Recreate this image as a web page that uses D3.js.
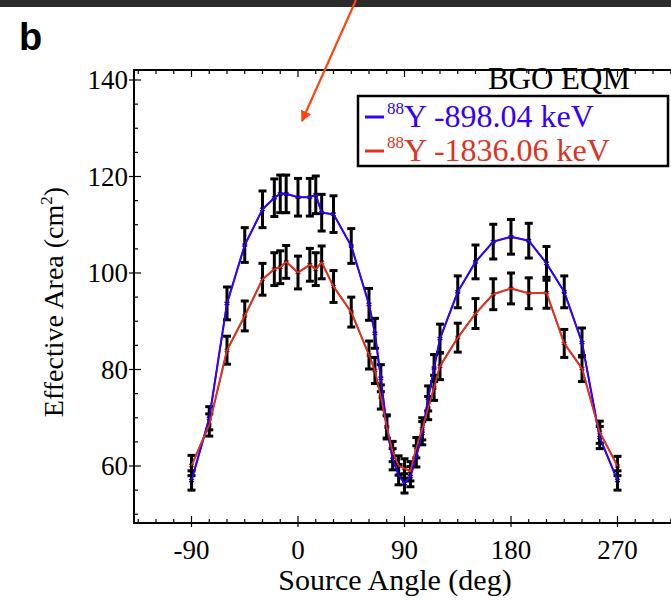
<!DOCTYPE html>
<html>
<head>
<meta charset="utf-8">
<script src="https://cdn.jsdelivr.net/npm/d3@7"></script>
<style>
  html, body { margin: 0; padding: 0; background: #fff; }
  svg { display: block; }
</style>
</head>
<body>
<div id="chart"></div>
<script>
const width = 671;
const height = 602;

// source angles (deg)
const angles = [-90, -75, -60, -45, -30, -20, -15, -10, 0, 10, 15, 20, 30, 45, 60, 65, 70, 75, 80, 85,
  90, 95, 100, 105, 110, 115, 120, 135, 150, 165, 180, 195, 210, 225, 240, 255, 270];

// 88Y 898.04 keV
const area898 = [57.0, 69.9, 93.7, 105.8, 113.2, 115.6, 116.4, 116.4, 115.7, 115.7, 116.2, 112.5, 112.2, 105.6, 93.5, 87.5, 78.2, 68.1, 61.4, 58.2,
  56.4, 57.8, 62.0, 66.8, 74.0, 80.3, 86.4, 96.1, 102.3, 106.5, 107.5, 106.7, 102.0, 96.1, 85.6, 65.9, 57.0];
const err898 = [2.0, 2.4, 3.4, 3.6, 3.8, 3.9, 3.9, 3.9, 3.9, 3.9, 3.9, 3.8, 3.8, 3.6, 3.3, 3.1, 2.8, 2.5, 2.2, 2.1,
  2.0, 2.1, 2.2, 2.4, 2.6, 2.8, 3.0, 3.3, 3.5, 3.6, 3.6, 3.6, 3.5, 3.3, 3.0, 2.3, 2.0];

// 88Y 1836.06 keV
const area1836 = [60.1, 68.5, 84.0, 91.1, 98.7, 100.8, 101.2, 102.3, 100.1, 101.7, 100.8, 102.2, 97.2, 91.9, 83.0, 79.8, 74.3, 68.1, 63.0, 60.1,
  59.5, 58.9, 63.8, 67.7, 72.0, 76.2, 80.7, 86.6, 91.6, 95.6, 96.8, 95.8, 95.9, 85.4, 80.2, 67.0, 60.0];
const err1836 = [2.1, 2.3, 2.9, 3.1, 3.3, 3.4, 3.4, 3.4, 3.4, 3.4, 3.4, 3.4, 3.3, 3.1, 2.9, 2.7, 2.5, 2.3, 2.1, 2.0,
  2.0, 2.0, 2.1, 2.3, 2.4, 2.6, 2.8, 3.0, 3.1, 3.2, 3.2, 3.2, 3.2, 2.9, 2.7, 2.3, 2.0];

const xTicks = [-90, 0, 90, 180, 270];
const yTicks = [60, 80, 100, 120, 140];

const blue = "#3300ff";
const red = "#dd3322";
const serif = "'Liberation Serif', 'DejaVu Serif', serif";

const frame = { left: 134, right: 700, top: 70, bottom: 523 };

const svg = d3.select("#chart")
  .append("svg")
  .attr("width", width)
  .attr("height", height);

const x = d3.scaleLinear()
  .domain([-90, 270])
  .range([191.5, 617.5]);

const y = d3.scaleLinear()
  .domain([60, 140])
  .range([466, 80]);

// top dark strip + label "b"
svg.append("rect")
  .attr("x", 0).attr("y", 0)
  .attr("width", width).attr("height", 7)
  .attr("fill", "#2b2b2b");

svg.append("text")
  .attr("x", 19).attr("y", 50)
  .attr("font-family", "'Liberation Sans', Arial, sans-serif")
  .attr("font-weight", "bold")
  .attr("font-size", 38)
  .text("b");

// axis frame
svg.append("rect")
  .attr("x", frame.left).attr("y", frame.top)
  .attr("width", frame.right - frame.left)
  .attr("height", frame.bottom - frame.top)
  .attr("fill", "none")
  .attr("stroke", "#000")
  .attr("stroke-width", 2);

const xMin = x.invert(frame.left), xMax = x.invert(frame.right);
const yMin = y.invert(frame.bottom), yMax = y.invert(frame.top);

const ticks = svg.append("g").attr("stroke", "#000").attr("stroke-width", 1.2);

d3.range(-135, 331, 15).filter(d => d >= xMin && d <= xMax).forEach(d => {
  const major = d % 90 === 0;
  const len = major ? 7 : 4;
  ticks.append("line")
    .attr("x1", x(d)).attr("x2", x(d))
    .attr("y1", frame.bottom + (major ? 4 : 0)).attr("y2", frame.bottom - len);
  ticks.append("line")
    .attr("x1", x(d)).attr("x2", x(d))
    .attr("y1", frame.top).attr("y2", frame.top + len);
});

d3.range(50, 141, 5).filter(d => d >= yMin && d <= yMax).forEach(d => {
  const major = d % 20 === 0;
  const len = major ? 7 : 4;
  ticks.append("line")
    .attr("x1", frame.left - (major ? 5 : 0)).attr("x2", frame.left + len)
    .attr("y1", y(d)).attr("y2", y(d));
});

svg.append("g")
  .attr("font-family", serif)
  .attr("font-size", 27)
  .attr("text-anchor", "middle")
  .selectAll("text")
  .data(xTicks)
  .join("text")
    .attr("x", d => x(d))
    .attr("y", 559)
    .text(d => d);

svg.append("g")
  .attr("font-family", serif)
  .attr("font-size", 27)
  .attr("text-anchor", "end")
  .selectAll("text")
  .data(yTicks)
  .join("text")
    .attr("x", 128)
    .attr("y", d => y(d) + 9)
    .text(d => d);

// axis titles
svg.append("text")
  .attr("x", 395).attr("y", 590)
  .attr("text-anchor", "middle")
  .attr("font-family", serif)
  .attr("font-size", 30)
  .text("Source Angle (deg)");

const yTitle = svg.append("text")
  .attr("transform", "translate(63,302) rotate(-90)")
  .attr("text-anchor", "middle")
  .attr("font-family", serif)
  .attr("font-size", 28);
yTitle.append("tspan").text("Effective Area (cm");
yTitle.append("tspan").attr("font-size", 17).attr("dy", -11).text("2");
yTitle.append("tspan").attr("dy", 11).text(")");

// series
const series = [
  { name: "898", values: area898, errors: err898, color: blue },
  { name: "1836", values: area1836, errors: err1836, color: red },
];

const line = d3.line()
  .x(d => x(d.angle))
  .y(d => y(d.value));

series.forEach(s => {
  const pts = angles.map((a, i) => ({ angle: a, value: s.values[i], err: s.errors[i] }));
  const g = svg.append("g");

  g.append("path")
    .datum(pts)
    .attr("d", line)
    .attr("fill", "none")
    .attr("stroke", s.color)
    .attr("stroke-width", 2);

  g.selectAll(".mark")
    .data(pts)
    .join("path")
      .attr("class", "mark")
      .attr("transform", d => `translate(${x(d.angle)},${y(d.value)})`)
      .attr("d", d3.symbol(d3.symbolAsterisk, 22))
      .attr("stroke", s.color)
      .attr("stroke-width", 1.5)
      .attr("fill", s.color);
});

// error bars on top
series.forEach(s => {
  const pts = angles.map((a, i) => ({ angle: a, value: s.values[i], err: s.errors[i] }));
  const eb = svg.append("g").attr("stroke", "#000").attr("stroke-width", 3);
  eb.selectAll(".stem")
    .data(pts)
    .join("line")
      .attr("x1", d => x(d.angle)).attr("x2", d => x(d.angle))
      .attr("y1", d => y(d.value - d.err)).attr("y2", d => y(d.value + d.err));
  eb.selectAll(".capTop")
    .data(pts)
    .join("line")
      .attr("x1", d => x(d.angle) - 4).attr("x2", d => x(d.angle) + 4)
      .attr("y1", d => y(d.value + d.err)).attr("y2", d => y(d.value + d.err));
  eb.selectAll(".capBot")
    .data(pts)
    .join("line")
      .attr("x1", d => x(d.angle) - 4).attr("x2", d => x(d.angle) + 4)
      .attr("y1", d => y(d.value - d.err)).attr("y2", d => y(d.value - d.err));
});

// re-draw the series lines thinly above the bars so colour shows through
series.forEach(s => {
  const pts = angles.map((a, i) => ({ angle: a, value: s.values[i] }));
  svg.append("path")
    .datum(pts)
    .attr("d", line)
    .attr("fill", "none")
    .attr("stroke", s.color)
    .attr("stroke-width", 1.6);
});

// legend
svg.append("text")
  .attr("x", 630).attr("y", 89)
  .attr("text-anchor", "end")
  .attr("font-family", serif)
  .attr("font-size", 31)
  .text("BGO EQM");

svg.append("rect")
  .attr("x", 358).attr("y", 96)
  .attr("width", 310).attr("height", 70)
  .attr("fill", "#fff")
  .attr("stroke", "#000")
  .attr("stroke-width", 2.5);

const legendItems = [
  { label: "Y -898.04 keV", color: blue, yy: 117 },
  { label: "Y -1836.06 keV", color: red, yy: 151 },
];
legendItems.forEach(it => {
  svg.append("line")
    .attr("x1", 365).attr("x2", 384)
    .attr("y1", it.yy).attr("y2", it.yy)
    .attr("stroke", it.color)
    .attr("stroke-width", 3);
  const t = svg.append("text")
    .attr("x", 387).attr("y", it.yy + 10)
    .attr("font-family", serif)
    .attr("font-size", 32)
    .attr("fill", it.color);
  t.append("tspan").attr("font-size", 17).attr("dy", -13).text("88");
  t.append("tspan").attr("dy", 13).text(it.label);
});

// annotation arrow
const defs = svg.append("defs");
defs.append("marker")
  .attr("id", "arrowhead")
  .attr("viewBox", "0 0 10 10")
  .attr("refX", 9).attr("refY", 5)
  .attr("markerWidth", 5).attr("markerHeight", 5)
  .attr("orient", "auto")
  .append("path")
    .attr("d", "M0,0 L10,5 L0,10 z")
    .attr("fill", "#ff4411");

svg.append("line")
  .attr("x1", 356).attr("y1", 0)
  .attr("x2", 302).attr("y2", 121)
  .attr("stroke", "#ff4411")
  .attr("stroke-width", 2.2)
  .attr("marker-end", "url(#arrowhead)");
</script>
</body>
</html>
